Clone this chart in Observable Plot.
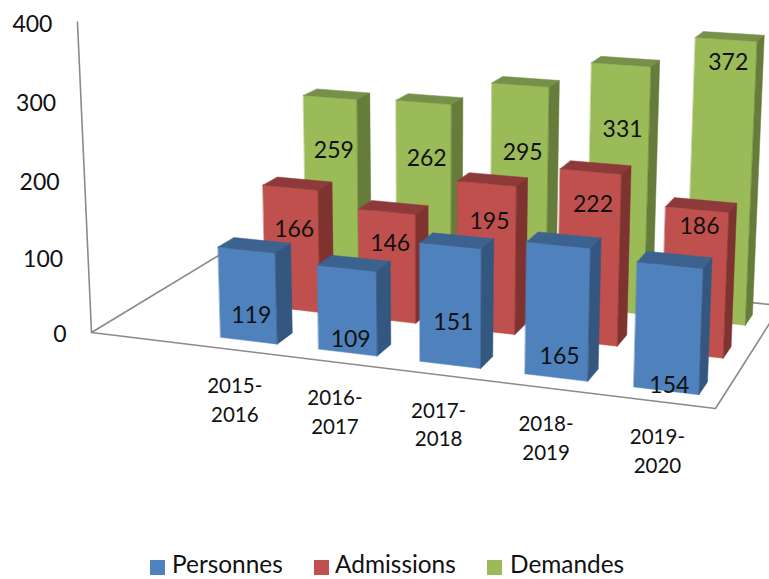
<!DOCTYPE html>
<html>
<head>
<meta charset="utf-8">
<script src="https://cdn.jsdelivr.net/npm/d3@7"></script>
<script src="https://cdn.jsdelivr.net/npm/@observablehq/plot@0.6"></script>
<style>
html,body{margin:0;padding:0;background:#fff;overflow:hidden;width:769px;height:579px}
#legend{position:relative;height:34px;font:24.4px Lato,sans-serif;color:#111}
#legend i{position:absolute;width:15px;height:15px}
#legend span{position:absolute;line-height:22px;white-space:nowrap}
</style>
</head>
<body>
<div id="chart"></div>
<div id="legend"></div>
<script>
// Data
const categories = ["2015-2016", "2016-2017", "2017-2018", "2018-2019", "2019-2020"];
const seriesNames = ["Personnes", "Admissions", "Demandes"];
const personnes  = [119, 109, 151, 165, 154];
const admissions = [166, 146, 195, 222, 186];
const demandes   = [259, 262, 295, 331, 372];
const valueTicks = [0, 100, 200, 300, 400];

// Height on the value axis at which each printed label sits
const personnesLabelAt  = [33, 17, 54, 26, 7];
const admissionsLabelAt = [110, 103, 145, 180, 165];
const demandesLabelAt   = [185, 185, 204, 246, 342];

// Shading: front, top, side
const frontColors = ["#4f81bd", "#c0504d", "#9bbb59"];
const topColors   = ["#3c6290", "#8f3a3a", "#76904a"];
const sideColors  = ["#345780", "#7f3331", "#667c3b"];

// Perspective camera: category axis, depth axis, value axis
const W = 769, H = 545;
const cam = {
  a: [110.5, 57.5, -0.04268, 91],
  b: [7.04, -16.03, -0.778, 332],
  c: [-0.02, 0.04857, -0.0000988, 1]
};
const project = (X, D, Z) => {
  const w = cam.c[0]*X + cam.c[1]*D + cam.c[2]*Z + cam.c[3];
  return [
    (cam.a[0]*X + cam.a[1]*D + cam.a[2]*Z + cam.a[3]) / w,
    (cam.b[0]*X + cam.b[1]*D + cam.b[2]*Z + cam.b[3]) / w
  ];
};
const floorX = 5, floorD = 3, topValue = 400;
const barStart = 1.01, barStep = 0.833, barWidth = 0.485, depthStart = 0.28, barDepth = 0.34;

const values = [personnes, admissions, demandes];
const labelAt = [personnesLabelAt, admissionsLabelAt, demandesLabelAt];

// Faces painted back to front
const faces = [];
for (const s of [2, 1, 0]) {
  values[s].forEach((v, i) => {
    const x0 = barStart + i*barStep, x1 = x0 + barWidth;
    const d0 = depthStart + s, d1 = d0 + barDepth;
    const add = (name, color, corners) => corners.forEach(c => {
      const [px, py] = project(...c);
      faces.push({id: `${s}-${i}-${name}`, color, px, py});
    });
    add("front", frontColors[s], [[x0,d0,0],[x1,d0,0],[x1,d0,v],[x0,d0,v]]);
    add("top", topColors[s], [[x0,d0,v],[x1,d0,v],[x1,d1,v],[x0,d1,v]]);
    add("side", sideColors[s], [[x1,d0,0],[x1,d1,0],[x1,d1,v],[x1,d0,v]]);
  });
}

const frame = [
  [[0,0,topValue],[0,0,0],[floorX,0,0],[floorX,floorD,0]],
  [[0,0,0],[0,floorD,0],[floorX,floorD,0]]
].flatMap((path, k) => path.map(c => {
  const [px, py] = project(...c);
  return {k, px, py};
}));

const tickRows = valueTicks.map(t => {
  const [px, py] = project(0, 0, t);
  return {t, px, py};
});

const catRows = categories.map((c, i) => {
  const [px, py] = project(barStart + i*barStep + barWidth/2, 0, 0);
  return {label: c.replace("-", "-\n"), px, py};
});

const valueRows = values.flatMap((vals, s) => vals.map((v, i) => {
  const [px, py] = project(barStart + i*barStep + barWidth/2, depthStart + s, labelAt[s][i]);
  return {v, px, py};
}));

const chart = Plot.plot({
  width: W, height: H,
  marginTop: 0, marginRight: 0, marginBottom: 0, marginLeft: 0,
  x: {domain: [0, W], range: [0, W], axis: null},
  y: {domain: [0, H], range: [0, H], axis: null},
  style: {fontFamily: "Lato, sans-serif", background: "#fff", color: "#111"},
  marks: [
    Plot.line(frame, {x: "px", y: "py", z: "k", stroke: "#8a8a8a", strokeWidth: 1.6}),
    Plot.line(faces, {x: "px", y: "py", z: "id", fill: "color", stroke: "color", strokeWidth: 0.5, curve: "linear-closed"}),
    Plot.text(tickRows, {x: "px", y: "py", text: d => String(d.t), dx: -25, dy: 2, textAnchor: "end", fontSize: 23, fill: "#111"}),
    Plot.text(catRows, {x: "px", y: "py", text: "label", dx: -1, dy: 48, lineHeight: 1.4, fontSize: 20.5, fill: "#111"}),
    Plot.text(valueRows, {x: "px", y: "py", text: d => String(d.v), dx: 3, fontSize: 23, fill: "#111"})
  ]
});
document.getElementById("chart").appendChild(chart);
chart.style.display = "block";

// Legend
const legend = document.getElementById("legend");
const swatchX = [150, 314, 487], labelX = [172, 335, 510];
seriesNames.forEach((name, s) => {
  const sw = document.createElement("i");
  sw.style.left = swatchX[s] + "px";
  sw.style.top = "15px";
  sw.style.background = frontColors[s];
  const tx = document.createElement("span");
  tx.style.left = labelX[s] + "px";
  tx.style.top = "8px";
  tx.textContent = name;
  legend.append(sw, tx);
});
</script>
</body>
</html>
